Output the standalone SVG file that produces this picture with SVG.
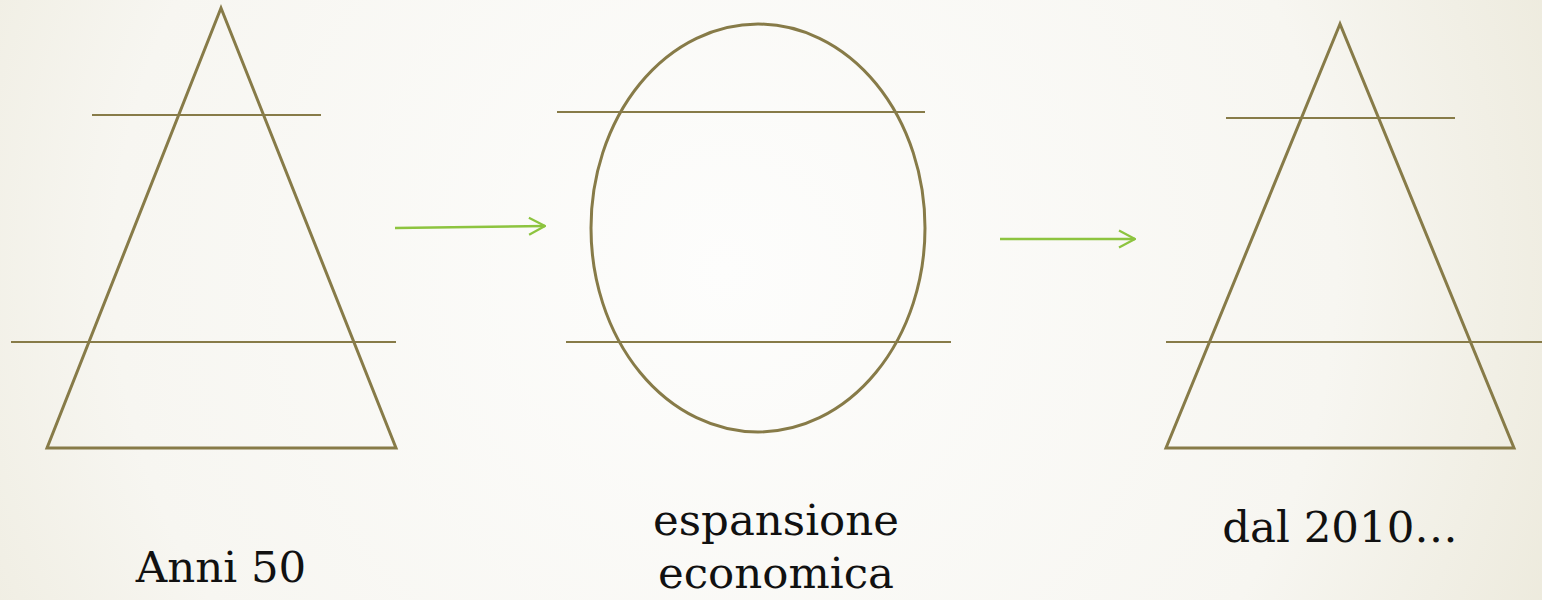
<svg xmlns="http://www.w3.org/2000/svg" width="1542" height="600" viewBox="0 0 1542 600">
<defs>
<radialGradient id="bg" cx="0.47" cy="0.45" r="0.72" gradientTransform="translate(0.47 0.45) scale(1 2.57) translate(-0.47 -0.45)">
<stop offset="0" stop-color="#fdfdfc"/>
<stop offset="0.55" stop-color="#f7f6f1"/>
<stop offset="1" stop-color="#e5e1cd"/>
</radialGradient>
<marker id="arr" viewBox="0 0 18 20" refX="17" refY="10" markerWidth="18" markerHeight="20" markerUnits="userSpaceOnUse" orient="auto">
<path d="M1 1.5 L17 10 L1 18.5" fill="none" stroke="#8dc43f" stroke-width="2.2"/>
</marker>
<style>
.sh{fill:none;stroke:#877b48;stroke-width:3}
.ln{fill:none;stroke:#877b48;stroke-width:2}
.ar{fill:none;stroke:#8dc43f;stroke-width:2.5}
.tx{font-family:"DejaVu Serif","Liberation Serif",serif;font-size:43.5px;fill:#111;text-anchor:middle}
</style>
</defs>
<rect width="1542" height="600" fill="url(#bg)"/>
<g id="n1">
<polygon class="sh" points="221,8 47,448 396,448"/>
<line class="ln" x1="92" y1="115" x2="321" y2="115"/>
<line class="ln" x1="11" y1="342" x2="396" y2="342"/>
<text class="tx" x="221" y="582">Anni 50</text>
</g>
<g id="n2">
<ellipse class="sh" cx="758" cy="228" rx="167" ry="204"/>
<line class="ln" x1="557" y1="112" x2="925" y2="112"/>
<line class="ln" x1="566" y1="342" x2="951" y2="342"/>
<text class="tx" x="776" y="535">espansione</text>
<text class="tx" x="776" y="588">economica</text>
</g>
<g id="n3">
<polygon class="sh" points="1340,24 1166,448 1514,448"/>
<line class="ln" x1="1226" y1="118" x2="1455" y2="118"/>
<line class="ln" x1="1166" y1="342" x2="1542" y2="342"/>
<text class="tx" x="1340" y="542">dal 2010…</text>
</g>
<g id="connectors">
<line class="ar" x1="395" y1="228" x2="545" y2="226" marker-end="url(#arr)"/>
<line class="ar" x1="1000" y1="239" x2="1135" y2="239" marker-end="url(#arr)"/>
</g>
</svg>
